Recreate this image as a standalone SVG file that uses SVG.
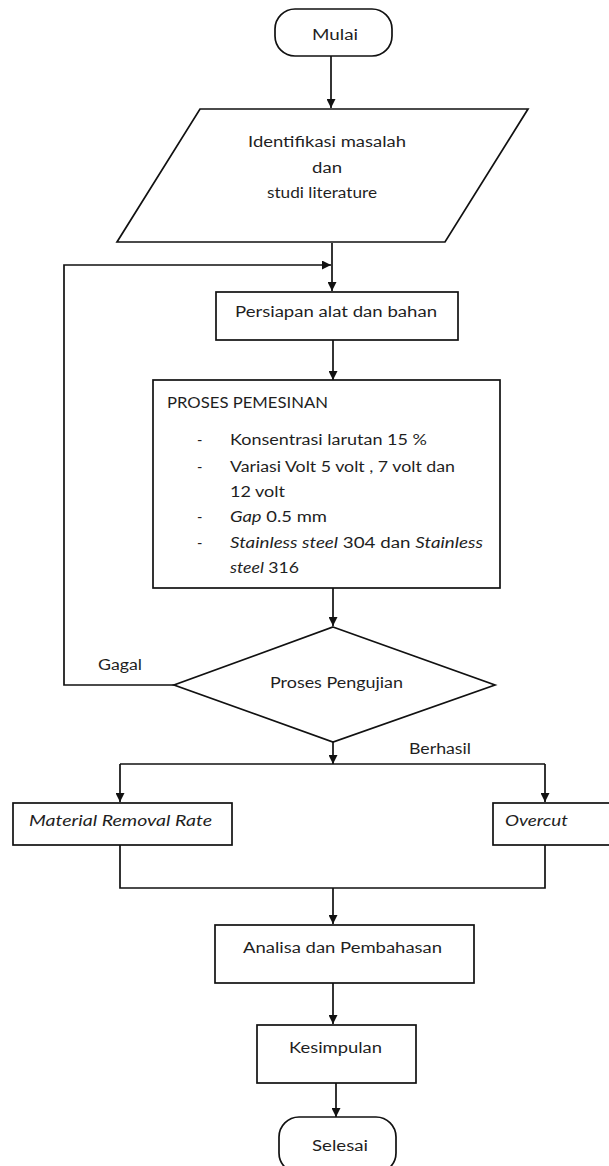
<svg xmlns="http://www.w3.org/2000/svg" width="609" height="1166" viewBox="0 0 609 1166">
<style>
  .shape { fill: #ffffff; stroke: #111111; stroke-width: 1.7; }
  .conn { fill: none; stroke: #111111; stroke-width: 1.7; }
  text { font-family: Lato, "Open Sans", "Liberation Sans", sans-serif; font-size: 14.5px; fill: #1f1f1f; }
  .it { font-style: italic; }
</style>
<defs>
  <marker id="arrow" markerUnits="userSpaceOnUse" markerWidth="9" markerHeight="9" refX="9" refY="4.5" orient="auto">
    <path d="M0,0 L9,4.5 L0,9 z" fill="#111111"/>
  </marker>
</defs>
<rect width="609" height="1166" fill="#ffffff"/>

<g id="connectors">
  <path class="conn" d="M331,56 V108" marker-end="url(#arrow)"/>
  <path class="conn" d="M332,243 V291" marker-end="url(#arrow)"/>
  <path class="conn" d="M174,685 H64 V265 H331" marker-end="url(#arrow)"/>
  <path class="conn" d="M333,340 V380" marker-end="url(#arrow)"/>
  <path class="conn" d="M333,588 V626" marker-end="url(#arrow)"/>
  <path class="conn" d="M333,742 V764" marker-end="url(#arrow)"/>
  <path class="conn" d="M120,764 H545"/>
  <path class="conn" d="M120,764 V802" marker-end="url(#arrow)"/>
  <path class="conn" d="M545,764 V802" marker-end="url(#arrow)"/>
  <path class="conn" d="M120,845 V888 H545 V845"/>
  <path class="conn" d="M333,888 V924" marker-end="url(#arrow)"/>
  <path class="conn" d="M333,983 V1024" marker-end="url(#arrow)"/>
  <path class="conn" d="M336,1083 V1117" marker-end="url(#arrow)"/>
  <text x="98" y="670" textLength="44" lengthAdjust="spacingAndGlyphs">Gagal</text>
  <text x="409" y="754" textLength="62" lengthAdjust="spacingAndGlyphs">Berhasil</text>
</g>

<g id="mulai">
  <rect class="shape" x="275" y="9" width="117" height="47" rx="20" ry="20"/>
  <text x="312" y="40" textLength="46" lengthAdjust="spacingAndGlyphs">Mulai</text>
</g>

<g id="identifikasi">
  <polygon class="shape" points="200,109 528,109 445,242 117,242"/>
  <text x="248" y="147" textLength="158" lengthAdjust="spacingAndGlyphs">Identifikasi masalah</text>
  <text x="312" y="173" textLength="30" lengthAdjust="spacingAndGlyphs">dan</text>
  <text x="267" y="198" textLength="110" lengthAdjust="spacingAndGlyphs">studi literature</text>
</g>

<g id="persiapan">
  <rect class="shape" x="216" y="292" width="242" height="48"/>
  <text x="235" y="317" textLength="202" lengthAdjust="spacingAndGlyphs">Persiapan alat dan bahan</text>
</g>

<g id="proses-pemesinan">
  <rect class="shape" x="153" y="380" width="347" height="208"/>
  <text x="167" y="408" textLength="161" lengthAdjust="spacingAndGlyphs">PROSES PEMESINAN</text>
  <text x="197" y="445">-</text>
  <text x="230" y="445" textLength="197" lengthAdjust="spacingAndGlyphs">Konsentrasi larutan 15 %</text>
  <text x="197" y="472">-</text>
  <text x="230" y="472" textLength="225" lengthAdjust="spacingAndGlyphs">Variasi Volt 5 volt , 7 volt dan</text>
  <text x="230" y="497" textLength="55" lengthAdjust="spacingAndGlyphs">12 volt</text>
  <text x="197" y="522">-</text>
  <text x="230" y="522" textLength="97" lengthAdjust="spacingAndGlyphs"><tspan class="it">Gap</tspan> 0.5 mm</text>
  <text x="197" y="548">-</text>
  <text x="230" y="548" textLength="253" lengthAdjust="spacingAndGlyphs"><tspan class="it">Stainless steel</tspan> 304 dan <tspan class="it">Stainless</tspan></text>
  <text x="230" y="573" textLength="69" lengthAdjust="spacingAndGlyphs"><tspan class="it">steel</tspan> 316</text>
</g>

<g id="pengujian">
  <polygon class="shape" points="333,627 495,685 333,742 174,685"/>
  <text x="270" y="688" textLength="133" lengthAdjust="spacingAndGlyphs">Proses Pengujian</text>
</g>

<g id="mrr">
  <rect class="shape" x="13" y="803" width="219" height="42"/>
  <text class="it" x="29" y="826" textLength="183" lengthAdjust="spacingAndGlyphs">Material Removal Rate</text>
</g>

<g id="overcut">
  <rect class="shape" x="493" y="803" width="130" height="42"/>
  <text class="it" x="505" y="826" textLength="63" lengthAdjust="spacingAndGlyphs">Overcut</text>
</g>

<g id="analisa">
  <rect class="shape" x="215" y="925" width="259" height="58"/>
  <text x="243" y="953" textLength="199" lengthAdjust="spacingAndGlyphs">Analisa dan Pembahasan</text>
</g>

<g id="kesimpulan">
  <rect class="shape" x="257" y="1025" width="159" height="58"/>
  <text x="289" y="1053" textLength="93" lengthAdjust="spacingAndGlyphs">Kesimpulan</text>
</g>

<g id="selesai">
  <rect class="shape" x="279" y="1117" width="117" height="56" rx="20" ry="20"/>
  <text x="312" y="1151" textLength="56" lengthAdjust="spacingAndGlyphs">Selesai</text>
</g>
</svg>
